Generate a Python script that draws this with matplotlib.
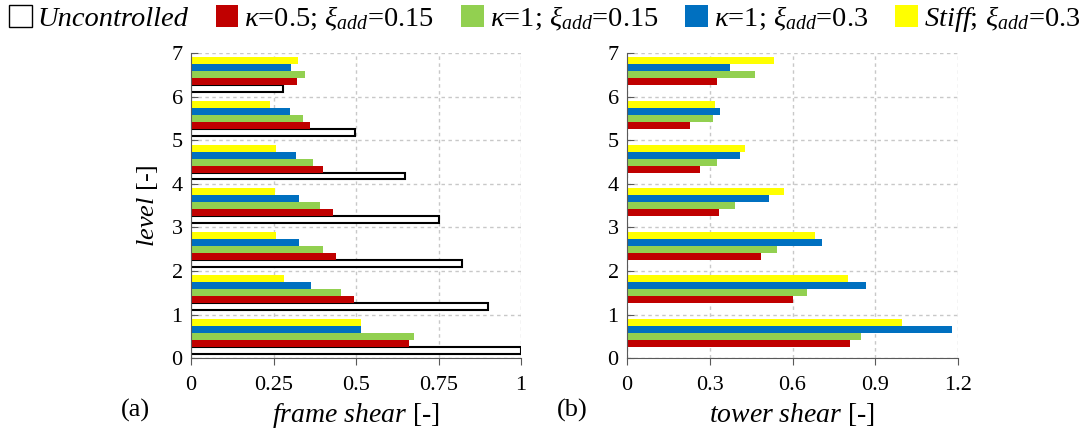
import numpy as np
import matplotlib
matplotlib.use("Agg")
import matplotlib.pyplot as plt
from matplotlib.patches import Patch

plt.rcParams['font.family'] = ['Liberation Serif', 'DejaVu Serif']
plt.rcParams['mathtext.fontset'] = 'custom'
plt.rcParams['mathtext.rm'] = 'Liberation Serif'
plt.rcParams['mathtext.it'] = 'Liberation Serif:italic'

# datos
niveles = [1, 2, 3, 4, 5, 6, 7]
frame_unc = [1.00, 0.90, 0.822, 0.752, 0.647, 0.496, 0.28]
frame_k05 = [0.66, 0.493, 0.439, 0.430, 0.400, 0.360, 0.322]
frame_k1_015 = [0.676, 0.455, 0.399, 0.391, 0.369, 0.339, 0.346]
frame_k1_03 = [0.515, 0.363, 0.327, 0.328, 0.317, 0.300, 0.303]
frame_stiff = [0.515, 0.282, 0.258, 0.254, 0.256, 0.238, 0.324]

tower_k05 = [0.809, 0.602, 0.487, 0.334, 0.264, 0.227, 0.325]
tower_k1_015 = [0.849, 0.652, 0.545, 0.392, 0.325, 0.312, 0.463]
tower_k1_03 = [1.177, 0.868, 0.708, 0.516, 0.408, 0.338, 0.375]
tower_stiff = [0.998, 0.802, 0.681, 0.570, 0.428, 0.319, 0.534]

etiquetas = ['Uncontrolled',
             r'$\kappa$=0.5; $\xi_{add}$=0.15',
             r'$\kappa$=1; $\xi_{add}$=0.15',
             r'$\kappa$=1; $\xi_{add}$=0.3',
             r'$\mathit{Stiff;}\,\xi_{add}$=0.3']
colores = ['white', '#C00000', '#92D050', '#0070C0', '#FFFF00']

fig = plt.figure(figsize=(10.83, 4.32), dpi=100)
ax1 = fig.add_axes([0.1764, 0.171, 0.3047, 0.706])
ax2 = fig.add_axes([0.579, 0.171, 0.3056, 0.706])

h = 0.16
y = np.array(niveles) - 0.5

def barras(ax, series, slots):
    for s, i in zip(series, slots):
        if i == 0:
            ax.barh(y + (i - 2) * h, s, height=h, color='white',
                    edgecolor='black', linewidth=1.5)
        else:
            ax.barh(y + (i - 2) * h, s, height=h, color=colores[i],
                    edgecolor='none')

barras(ax1, [frame_unc, frame_k05, frame_k1_015, frame_k1_03, frame_stiff],
       [0, 1, 2, 3, 4])
barras(ax2, [tower_k05, tower_k1_015, tower_k1_03, tower_stiff], [1, 2, 3, 4])

ax1.set_xlim(0, 1)
ax1.set_xticks([0, 0.25, 0.5, 0.75, 1])
ax1.set_xticklabels(['0', '0.25', '0.5', '0.75', '1'])
ax2.set_xlim(0, 1.2)
ax2.set_xticks([0, 0.3, 0.6, 0.9, 1.2])
ax2.set_xticklabels(['0', '0.3', '0.6', '0.9', '1.2'])

for ax in (ax1, ax2):
    ax.set_ylim(0, 7)
    ax.set_yticks(range(8))
    ax.grid(True, color='#C8C8C8', linestyle=(0, (2.5, 2.5)), linewidth=1)
    ax.set_axisbelow(True)
    ax.spines['top'].set_visible(False)
    ax.spines['right'].set_visible(False)
    ax.spines['left'].set_color('#595959')
    ax.spines['bottom'].set_color('#595959')
    ax.tick_params(axis='y', direction='in', length=5, color='#595959',
                   labelsize=16, pad=6)
    ax.tick_params(axis='x', direction='out', length=5, color='#595959',
                   labelsize=16, pad=8)

ax1.set_xlabel(r'$\it{frame\ shear}$ [-]', fontsize=20, labelpad=4)
ax2.set_xlabel(r'$\it{tower\ shear}$ [-]', fontsize=20, labelpad=4)
ax1.set_ylabel(r'$\it{level}$ [-]', fontsize=19, labelpad=8)

fig.text(0.112, 0.035, '(a)', fontsize=19)
fig.text(0.514, 0.035, '(b)', fontsize=19)

handles = [Patch(facecolor=c, edgecolor='black' if c == 'white' else 'none',
                 linewidth=1) for c in colores]
leg = fig.legend(handles, etiquetas, loc='upper center', ncol=5,
                 bbox_to_anchor=(0.503, 1.03), frameon=False, fontsize=20.5,
                 handlelength=0.8, handleheight=0.8, handletextpad=0.2,
                 columnspacing=0.95, borderaxespad=0.2)
leg.get_texts()[0].set_fontstyle('italic')

fig.savefig('out.png', dpi=100)
